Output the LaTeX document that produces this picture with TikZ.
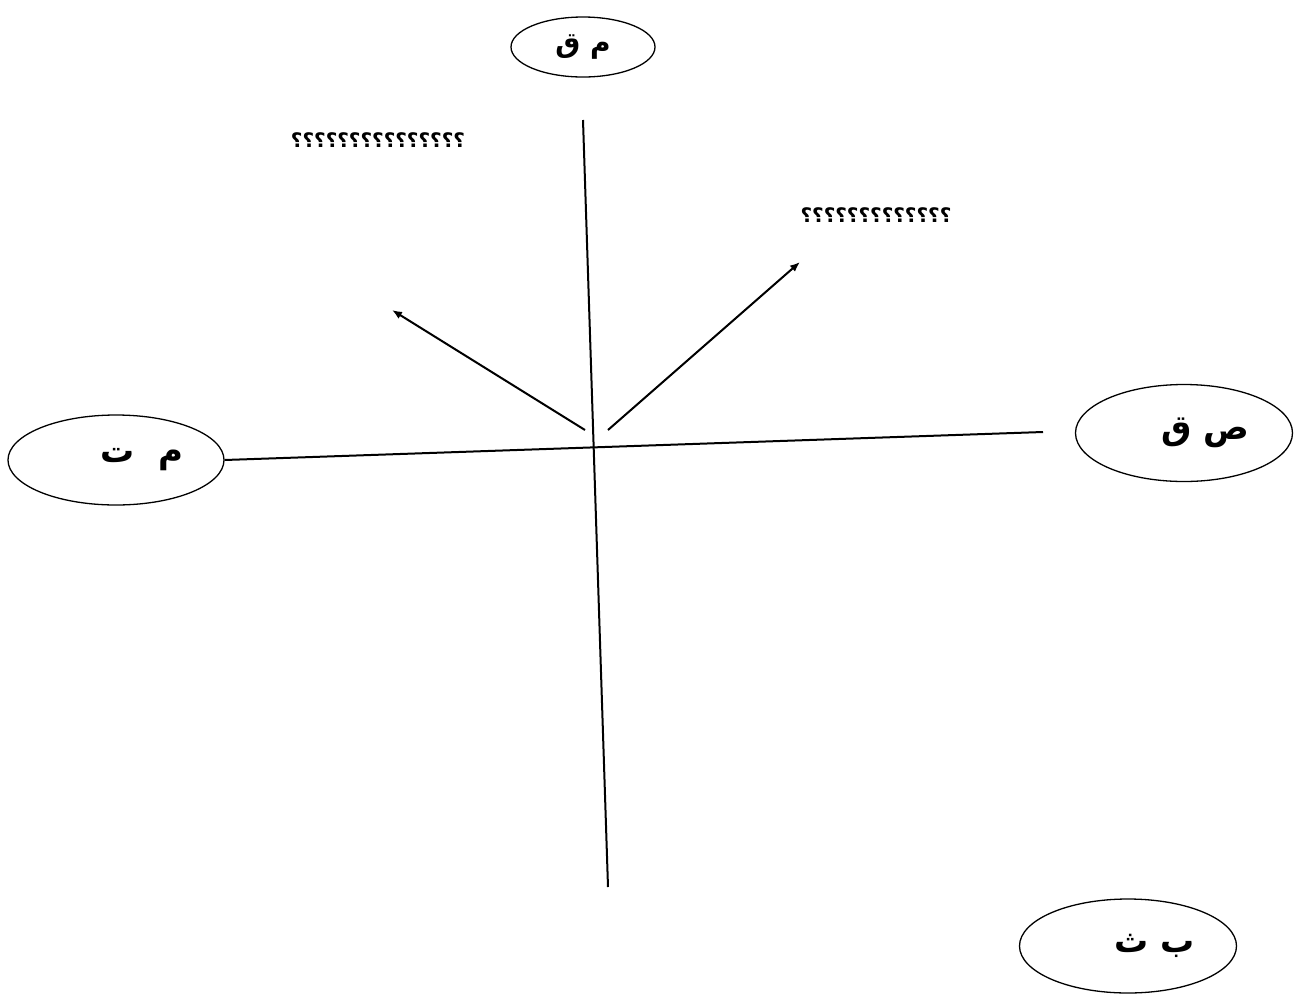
\documentclass[tikz,border=0pt]{standalone}
\usepackage{fontspec}
\newfontfamily\arabicfont[Script=Arabic]{DejaVu Sans}
\TeXXeTstate=1
\usetikzlibrary{shapes.geometric,arrows.meta}
\begin{document}
\begin{tikzpicture}[x=1pt,y=-1pt,line width=2pt,
		oval/.style={ellipse, draw, line width=1.3pt, inner sep=0pt, font=\arabicfont\bfseries\fontsize{34}{38}\selectfont},
		qmarks/.style={font=\arabicfont\bfseries\fontsize{20}{22}\selectfont}]
				\useasboundingbox (0,0) rectangle (1294,994);
				
				\node[oval, minimum width=144pt, minimum height=60pt, font=\arabicfont\bfseries\fontsize{28}{32}\selectfont] (qm) at (583,47) {\beginR م ق\endR};
				\node[oval, minimum width=216pt, minimum height=90pt] (mt) at (116,460) {\hspace*{52pt}\beginR م~~ت\endR};
				\node[oval, minimum width=217pt, minimum height=97pt] (qs) at (1184,433) {\hspace*{42pt}\beginR ص ق\endR};
				\node[oval, minimum width=217pt, minimum height=94pt] (thb) at (1128,946) {\hspace*{54pt}\beginR ب ث\endR};
				
				\node[qmarks] (tl) at (378,140) {\beginR ؟؟؟؟؟؟؟؟؟؟؟؟؟؟؟\endR};
				\node[qmarks] (tr) at (876,215) {\beginR ؟؟؟؟؟؟؟؟؟؟؟؟؟\endR};
				
				\coordinate (top) at (583,120);
				\coordinate (bot) at (608,887);
				\coordinate (east) at (1043,432);
				\coordinate (o1) at (585,430);
				\coordinate (o2) at (608,430);
				\coordinate (a1) at (392,310);
				\coordinate (a2) at (800,262);
				
				\draw (top) -- (bot);
				\draw (mt.east) -- (east);
				\draw[-{Latex[length=10pt,width=8pt]}] (o1) -- (a1);
				\draw[-{Latex[length=10pt,width=8pt]}] (o2) -- (a2);
			\end{tikzpicture}
\end{document}
